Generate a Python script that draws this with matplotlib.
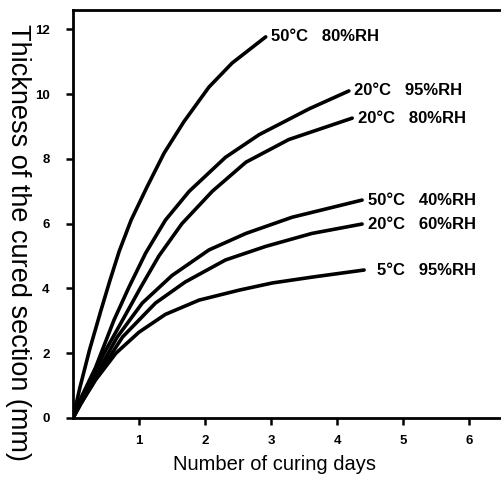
import matplotlib.pyplot as plt

# curing curves (days, thickness in mm)
labels = ["50°C   80%RH", "20°C   95%RH", "20°C   80%RH",
          "50°C   40%RH", "20°C   60%RH", "5°C   95%RH"]

days_5080 = [0, 0.1, 0.25, 0.42, 0.56, 0.70, 0.88, 1.12, 1.38, 1.68, 2.06, 2.41, 2.92]
mm_5080 = [0, 0.9, 2.1, 3.3, 4.25, 5.15, 6.11, 7.13, 8.18, 9.15, 10.22, 10.96, 11.77]

days_2095 = [0, 0.08, 0.34, 0.62, 0.85, 1.1, 1.4, 1.76, 2.31, 2.82, 3.58, 4.18]
mm_2095 = [0, 0.45, 1.55, 3.02, 4.05, 5.09, 6.11, 7.0, 8.05, 8.75, 9.55, 10.1]

days_2080 = [0, 0.1, 0.25, 0.47, 0.75, 1.03, 1.3, 1.65, 2.11, 2.62, 3.27, 4.23]
mm_2080 = [0, 0.45, 1.1, 2.0, 3.02, 4.05, 5.0, 6.0, 7.0, 7.9, 8.6, 9.26]

days_5040 = [0, 0.12, 0.39, 0.67, 1.05, 1.5, 2.06, 2.62, 3.32, 4.38]
mm_5040 = [0, 0.5, 1.48, 2.5, 3.55, 4.4, 5.19, 5.7, 6.2, 6.73]

days_2060 = [0, 0.15, 0.4, 0.75, 1.25, 1.7, 2.31, 2.92, 3.62, 4.38]
mm_2060 = [0, 0.55, 1.4, 2.5, 3.55, 4.2, 4.88, 5.3, 5.7, 5.99]

days_595 = [0, 0.12, 0.34, 0.65, 1.0, 1.4, 1.91, 2.52, 3.02, 3.62, 4.41]
mm_595 = [0, 0.45, 1.17, 2.0, 2.65, 3.2, 3.64, 3.95, 4.17, 4.35, 4.57]

series = [(days_5080, mm_5080), (days_2095, mm_2095), (days_2080, mm_2080),
          (days_5040, mm_5040), (days_2060, mm_2060), (days_595, mm_595)]

plt.rcParams['font.family'] = ['Liberation Sans', 'DejaVu Sans']
narrow = ['Liberation Sans Narrow', 'Liberation Sans', 'DejaVu Sans']

fig = plt.figure(figsize=(5.02, 4.79), dpi=100)
ax = fig.add_axes([73 / 502, 1 - 418 / 479, 429 / 502, 408 / 479])

for (d, t), lab in zip(series, labels):
    ax.plot(d, t, color='black', linewidth=2.6, solid_capstyle='round',
            solid_joinstyle='round')
    dx = 9 if lab.startswith('5°C') else 4
    ax.annotate(lab, (d[-1], t[-1]), xytext=(dx, 0), textcoords='offset points',
                va='center', ha='left', fontsize=12, fontweight='bold',
                family=narrow)

ax.set_xlim(0, 6.5)
ax.set_ylim(0, 12.6)
ax.set_xticks([1, 2, 3, 4, 5, 6])
ax.set_yticks([0, 2, 4, 6, 8, 10, 12])
ax.tick_params(axis='both', direction='out', length=5, width=1.8, labelsize=9.5)
for lbl in ax.get_xticklabels() + ax.get_yticklabels():
    lbl.set_fontweight('bold')
    lbl.set_family(narrow)
ax.tick_params(axis='x', pad=7)
ax.tick_params(axis='y', pad=12)

ax.spines['right'].set_visible(False)
for s in ['left', 'bottom', 'top']:
    ax.spines[s].set_linewidth(2.0)

fig.text(0.5 * (175 + 375) / 502, 1 - 465 / 479, 'Number of curing days',
         fontsize=14.5, ha='center', va='center')
fig.text(18 / 502, 1 - 242 / 479, 'Thickness of the cured section (mm)',
         fontsize=19.5, rotation=270, ha='center', va='center')

fig.savefig('out.png', dpi=100)
